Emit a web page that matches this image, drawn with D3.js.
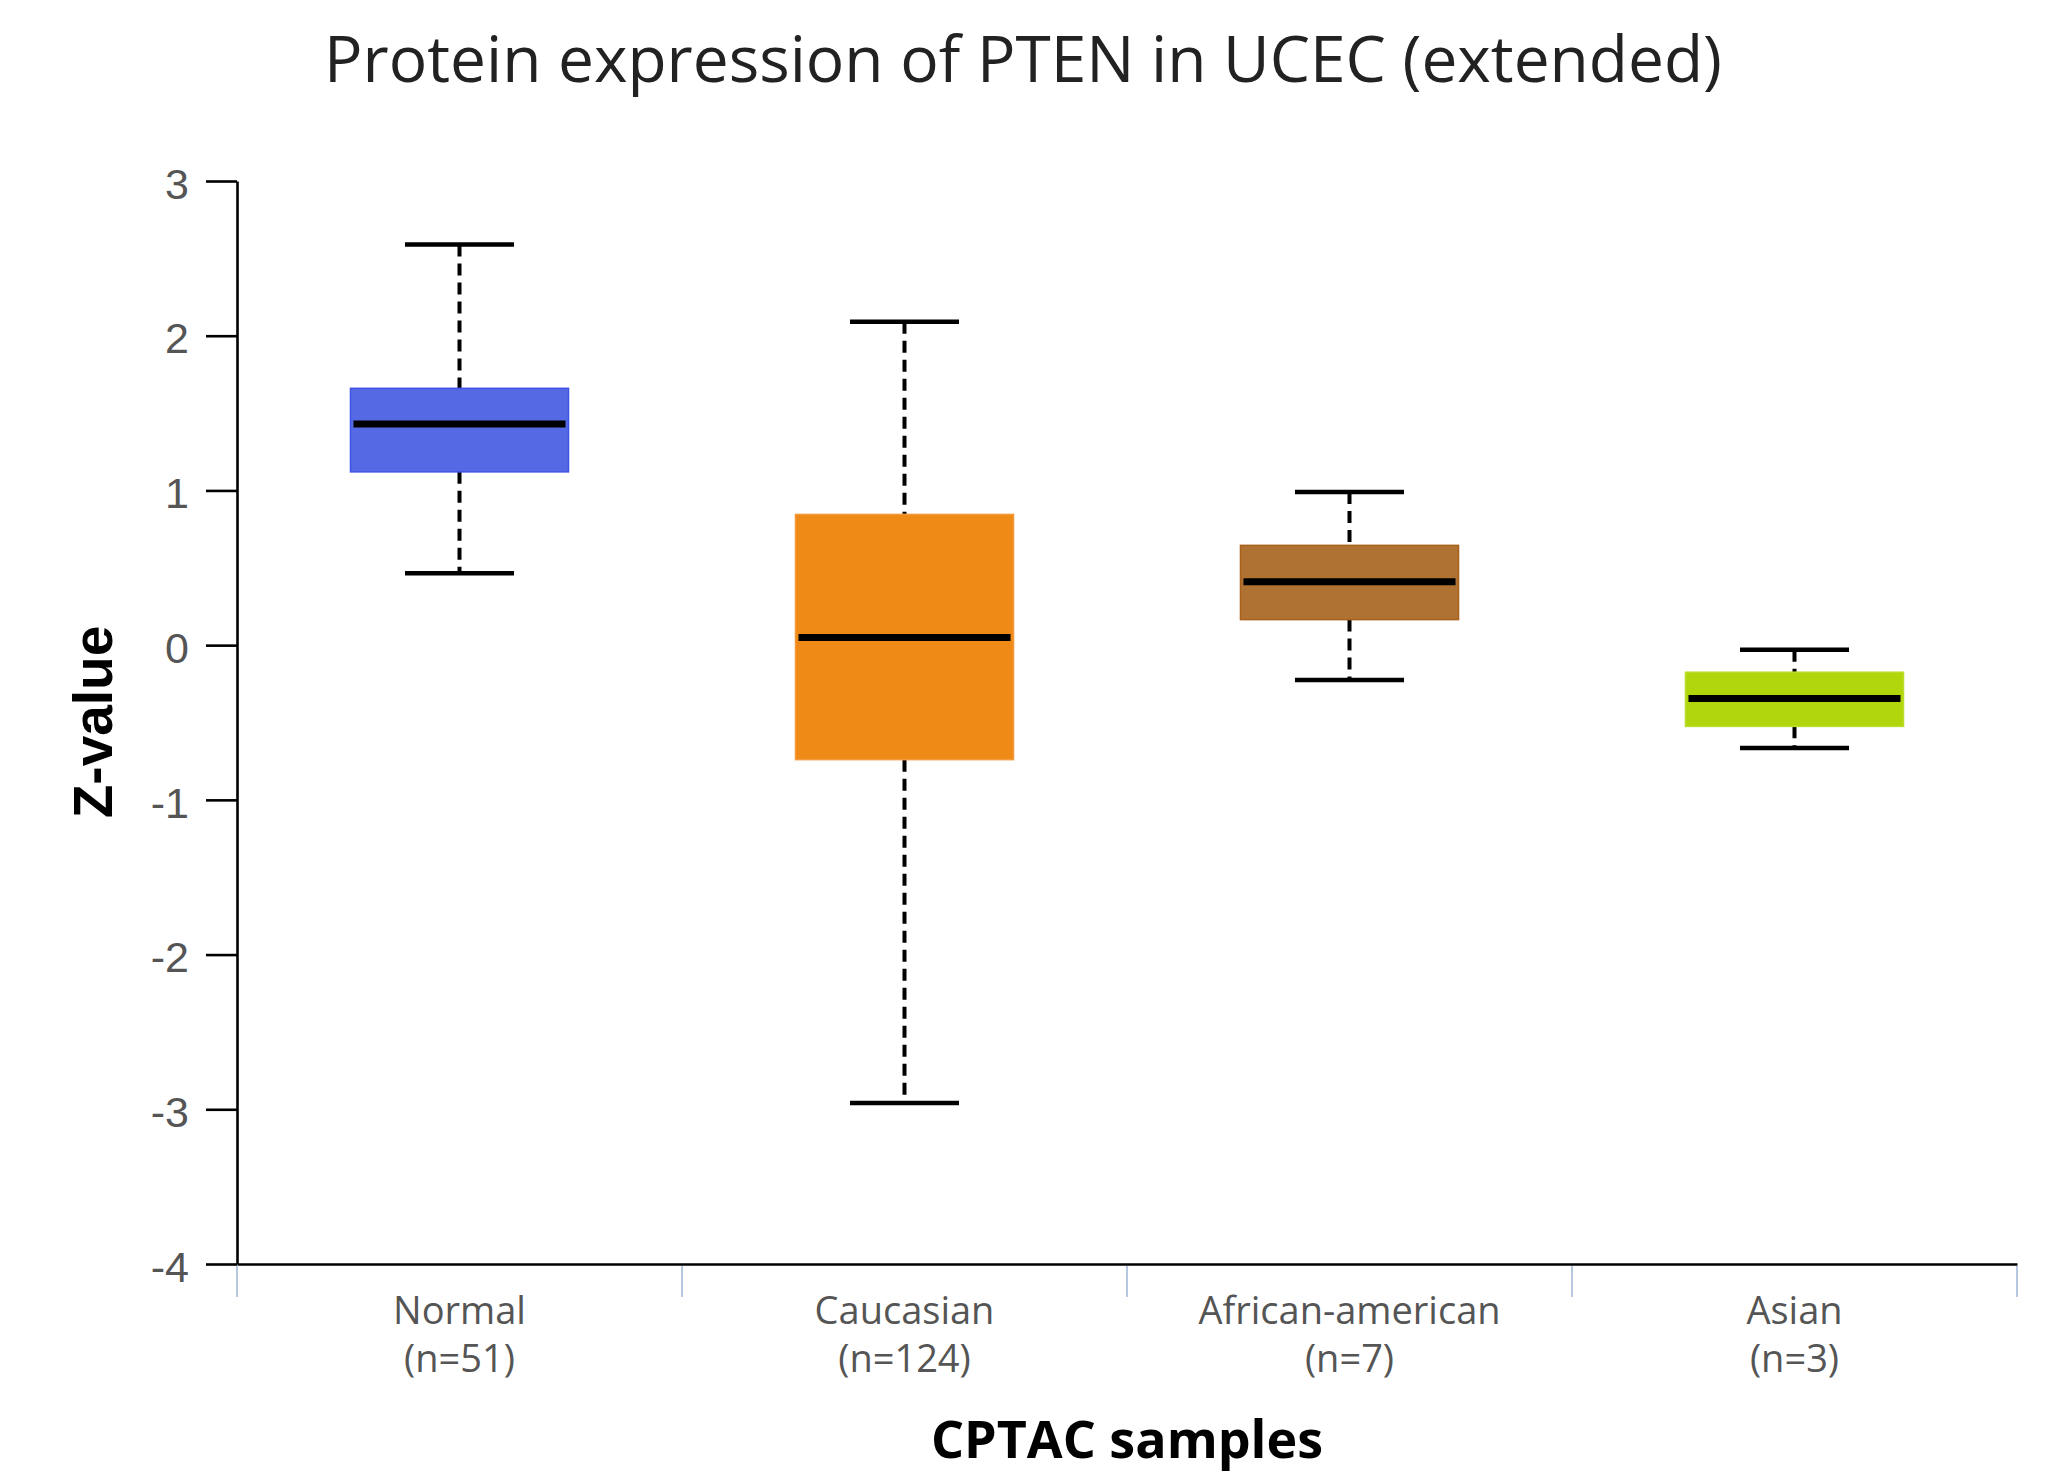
<!DOCTYPE html>
<html>
<head>
<meta charset="utf-8">
<script src="https://cdn.jsdelivr.net/npm/d3@7"></script>
<style>
  body { margin: 0; background: #fff; }
  svg { display: block; }
</style>
</head>
<body>
<div id="chart"></div>
<script>
// data
const groups = ["Normal", "Caucasian", "African-american", "Asian"];
const counts = [51, 124, 7, 3];
const upperWhisker = [2.59, 2.09, 0.99, -0.03];
const q3 = [1.66, 0.845, 0.645, -0.175];
const medians = [1.43, 0.05, 0.41, -0.345];
const q1 = [1.12, -0.74, 0.165, -0.525];
const lowerWhisker = [0.465, -2.96, -0.225, -0.665];
const yTicks = [3, 2, 1, 0, -1, -2, -3, -4];

const fills = ["#5469e3", "#ef8a17", "#b07232", "#b2d60c"];
const strokes = ["#3e54e6", "#f39a3a", "#a9621c", "#badd2a"];

var W = 2048, H = 1477;
var margin = {top: 181, right: 31, bottom: 213, left: 237};

var svg = d3.select("#chart")
  .append("svg")
    .attr("width", W)
    .attr("height", H);

var x = d3.scaleBand()
  .domain(groups)
  .range([margin.left, W - margin.right])
  .padding(0);

var y = d3.scaleLinear()
  .domain([-4, 3])
  .range([H - margin.bottom, margin.top]);

var rows = groups.map(function(g, i) {
  return {name: g, n: counts[i], hi: upperWhisker[i], q3: q3[i], med: medians[i],
          q1: q1[i], lo: lowerWhisker[i], fill: fills[i], stroke: strokes[i]};
});

// title
svg.append("text")
  .attr("class", "title")
  .attr("x", 1023)
  .attr("y", 82)
  .attr("text-anchor", "middle")
  .style("font-family", "'Open Sans', sans-serif")
  .style("font-size", "64px")
  .style("fill", "#222")
  .text("Protein expression of PTEN in UCEC (extended)");

// y axis
var yAxis = svg.append("g")
  .attr("transform", "translate(" + margin.left + ",0)")
  .call(d3.axisLeft(y)
    .tickValues(yTicks)
    .tickFormat(function(d) { return String(d); })
    .tickSize(31).tickSizeOuter(0).tickPadding(17));
yAxis.select(".domain").attr("stroke", "#000").attr("stroke-width", 2.6);
yAxis.selectAll(".tick line").attr("stroke", "#000").attr("stroke-width", 2.6);
yAxis.selectAll(".tick text")
  .attr("dy", "0.4em")
  .style("font-family", "'Liberation Sans', Arial, sans-serif")
  .style("font-size", "43px")
  .style("fill", "#555");

// x axis line
var xAxis = svg.append("g")
  .attr("transform", "translate(0," + y(-4) + ")")
  .call(d3.axisBottom(x).tickSize(0).tickSizeOuter(0).tickFormat(""));
xAxis.select(".domain").attr("stroke", "#000").attr("stroke-width", 2.6);

// category separators
var seps = groups.map(function(g) { return x(g); }).concat([x.range()[1]]);
svg.selectAll("line.sep")
  .data(seps)
  .enter()
  .append("line")
    .attr("class", "sep")
    .attr("x1", function(d) { return d; })
    .attr("x2", function(d) { return d; })
    .attr("y1", y(-4) + 2)
    .attr("y2", y(-4) + 33)
    .attr("stroke", "#b6c8e0")
    .attr("stroke-width", 2);

// category labels (two lines each)
var cx = function(d) { return x(d.name) + x.bandwidth() / 2; };
var labelStyle = function(sel) {
  sel.attr("text-anchor", "middle")
    .style("font-family", "'Open Sans', sans-serif")
    .style("font-size", "38px")
    .style("fill", "#555");
};
svg.selectAll("text.cat")
  .data(rows)
  .enter()
  .append("text")
    .attr("class", "cat")
    .attr("x", cx)
    .attr("y", 1324)
    .call(labelStyle)
    .text(function(d) { return d.name; });
svg.selectAll("text.catn")
  .data(rows)
  .enter()
  .append("text")
    .attr("class", "catn")
    .attr("x", cx)
    .attr("y", 1372)
    .call(labelStyle)
    .text(function(d) { return "(n=" + d.n + ")"; });

// axis titles
svg.append("text")
  .attr("x", (x.range()[0] + x.range()[1]) / 2)
  .attr("y", 1458)
  .attr("text-anchor", "middle")
  .style("font-family", "'Open Sans', sans-serif")
  .style("font-weight", "bold")
  .style("font-size", "52px")
  .style("fill", "#000")
  .text("CPTAC samples");

svg.append("text")
  .attr("transform", "translate(112,722) rotate(-90)")
  .attr("text-anchor", "middle")
  .style("font-family", "'Liberation Sans', Arial, sans-serif")
  .style("font-weight", "bold")
  .style("font-size", "55px")
  .style("fill", "#000")
  .text("Z-value");

// boxes
var boxW = x.bandwidth() * 0.49;
var capW = boxW / 2;

var box = svg.selectAll("g.box")
  .data(rows)
  .enter()
  .append("g")
    .attr("class", "box");

// whiskers
box.append("line")
  .attr("x1", cx).attr("x2", cx)
  .attr("y1", function(d) { return y(d.hi); })
  .attr("y2", function(d) { return y(d.q3); })
  .attr("stroke", "#000").attr("stroke-width", 4)
  .attr("stroke-dasharray", "12,7");
box.append("line")
  .attr("x1", cx).attr("x2", cx)
  .attr("y1", function(d) { return y(d.q1); })
  .attr("y2", function(d) { return y(d.lo); })
  .attr("stroke", "#000").attr("stroke-width", 4)
  .attr("stroke-dasharray", "12,7");

// caps
box.append("line")
  .attr("x1", function(d) { return cx(d) - capW / 2; })
  .attr("x2", function(d) { return cx(d) + capW / 2; })
  .attr("y1", function(d) { return y(d.hi); })
  .attr("y2", function(d) { return y(d.hi); })
  .attr("stroke", "#000").attr("stroke-width", 4.5);
box.append("line")
  .attr("x1", function(d) { return cx(d) - capW / 2; })
  .attr("x2", function(d) { return cx(d) + capW / 2; })
  .attr("y1", function(d) { return y(d.lo); })
  .attr("y2", function(d) { return y(d.lo); })
  .attr("stroke", "#000").attr("stroke-width", 4.5);

// IQR rectangle
box.append("rect")
  .attr("x", function(d) { return cx(d) - boxW / 2; })
  .attr("y", function(d) { return y(d.q3); })
  .attr("width", boxW)
  .attr("height", function(d) { return y(d.q1) - y(d.q3); })
  .attr("fill", function(d) { return d.fill; })
  .attr("stroke", function(d) { return d.stroke; })
  .attr("stroke-width", 1.5);

// median
box.append("line")
  .attr("x1", function(d) { return cx(d) - boxW / 2 + 3; })
  .attr("x2", function(d) { return cx(d) + boxW / 2 - 3; })
  .attr("y1", function(d) { return y(d.med); })
  .attr("y2", function(d) { return y(d.med); })
  .attr("stroke", "#000").attr("stroke-width", 7);
</script>
</body>
</html>
